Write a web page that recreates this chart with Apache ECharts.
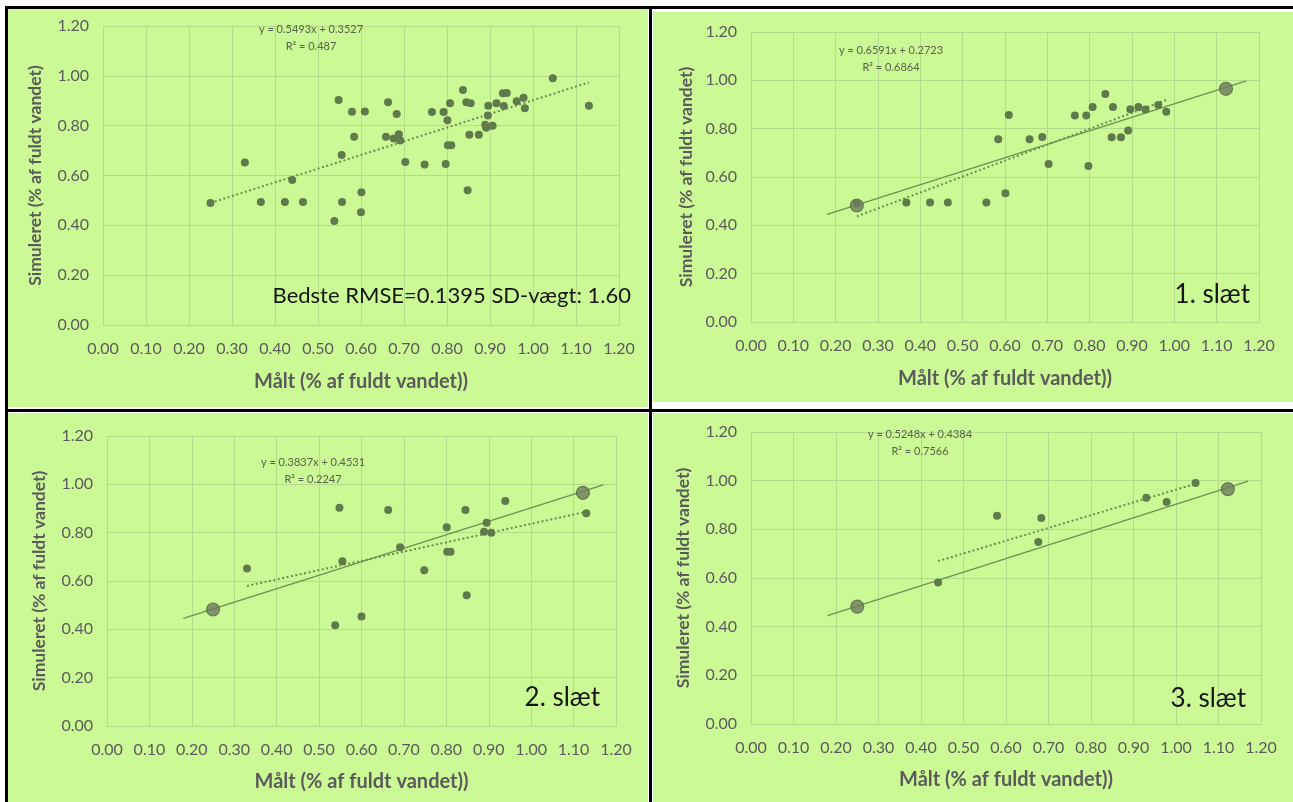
<!DOCTYPE html>
<html>
<head>
<meta charset="utf-8">
<script src="https://cdn.jsdelivr.net/npm/echarts@6/dist/echarts.min.js"></script>
<style>
html,body{margin:0;padding:0;background:#fff;}
#c{width:1293px;height:802px;}
</style>
</head>
<body>
<div id="c"></div>
<script>
// ---- data ----
var slaet1 = [[0.25,0.49],[0.367,0.494],[0.423,0.494],[0.465,0.494],[0.556,0.494],[0.601,0.533],[0.609,0.857],[0.584,0.756],[0.658,0.756],[0.688,0.766],[0.703,0.654],[0.765,0.855],[0.792,0.855],[0.797,0.646],[0.807,0.89],[0.837,0.943],[0.855,0.89],[0.852,0.764],[0.874,0.764],[0.891,0.792],[0.896,0.88],[0.915,0.89],[0.932,0.879],[0.962,0.898],[0.981,0.870]];
var slaet2 = [[0.330,0.652],[0.538,0.417],[0.548,0.903],[0.555,0.682],[0.600,0.453],[0.663,0.894],[0.691,0.740],[0.748,0.644],[0.801,0.822],[0.802,0.721],[0.810,0.721],[0.845,0.894],[0.848,0.541],[0.889,0.804],[0.895,0.841],[0.906,0.800],[0.939,0.931],[1.130,0.880]];
var slaet3 = [[0.440,0.582],[0.579,0.856],[0.676,0.748],[0.683,0.847],[0.930,0.930],[0.978,0.912],[1.046,0.990]];
var refPoints = [[0.25,0.482],[1.122,0.965]];
var refLine = [[0.18,0.445],[1.17,0.998]];
var trendSlopes = [0.5493, 0.6591, 0.3837, 0.5248];
var trendIntercepts = [0.3527, 0.2723, 0.4531, 0.4384];
var r2Values = ['0.487', '0.6864', '0.2247', '0.7566'];
var panelLabels = ['Bedste RMSE=0.1395 SD-vægt: 1.60', '1. slæt', '2. slæt', '3. slæt'];
var xTicks = ['0.00','0.10','0.20','0.30','0.40','0.50','0.60','0.70','0.80','0.90','1.00','1.10','1.20'];
var yTicks = ['0.00','0.20','0.40','0.60','0.80','1.00','1.20'];
var xTitle = 'Målt (% af fuldt vandet))';
var yTitle = 'Simuleret (% af fuldt vandet)';

// ---- layout ----
var panelData = [slaet1.concat(slaet2, slaet3), slaet1, slaet2, slaet3];
var grids = [
  {left:103, top:26, width:516, height:299},
  {left:751, top:32, width:508, height:290},
  {left:107, top:436, width:509, height:290},
  {left:751, top:432, width:510, height:292}
];
var eqPos = [[311,29],[891,50],[313,462],[920,434]];
var labelPos = [[631,296,22],[1250,295,26],[600,698,26],[1246,699,26]];
var bgRects = [[8,9,640,398],[653,12,640,390],[8,413,640,389],[653,413,640,389]];

var FONT = 'Lato, "Open Sans", sans-serif';
var GRID_C = '#b3dc8a';
var TXT_C = '#5b5b5b';
var MARK_C = '#607b4b';

var option = {
  backgroundColor:'#ffffff',
  animation:false,
  grid: grids.map(function(g){return {left:g.left, top:g.top, width:g.width, height:g.height, containLabel:false};}),
  xAxis: [], yAxis: [], series: [], graphic: []
};

function fmt(v){ return (Math.round(v*100)/100).toFixed(2); }

for (var i=0;i<4;i++){
  option.xAxis.push({
    type:'value', gridIndex:i, min:0, max:1.2, interval:0.1,
    name:xTitle, nameLocation:'middle', nameGap:i<2?47:46,
    nameTextStyle:{color:TXT_C, fontFamily:FONT, fontWeight:'bold', fontSize:20},
    axisLine:{show:true, lineStyle:{color:GRID_C, width:1}},
    axisTick:{show:false},
    splitLine:{show:true, lineStyle:{color:GRID_C, width:1}},
    axisLabel:{color:TXT_C, fontFamily:FONT, fontSize:16, margin:16, formatter:function(v){return fmt(v);}}
  });
  option.yAxis.push({
    type:'value', gridIndex:i, min:0, max:1.2, interval:0.2,
    name:yTitle, nameLocation:'middle', nameGap:i==1?56:59, nameRotate:90,
    nameTextStyle:{color:TXT_C, fontFamily:FONT, fontWeight:'bold', fontSize:17.5},
    axisLine:{show:false},
    axisTick:{show:false},
    splitLine:{show:true, lineStyle:{color:GRID_C, width:1}},
    axisLabel:{color:TXT_C, fontFamily:FONT, fontSize:16, margin:14, formatter:function(v){return fmt(v);}}
  });

  // reference line + big markers (slæt panels)
  if (i>0){
    option.series.push({
      type:'line', xAxisIndex:i, yAxisIndex:i, data:refLine, symbol:'none',
      lineStyle:{color:'#6c914f', width:1.3, type:'solid'}, z:2, silent:true
    });
  }
  // dotted trend line from displayed equation over the data range
  var xs = panelData[i].map(function(p){return p[0];});
  var x0 = Math.min.apply(null, xs), x1 = Math.max.apply(null, xs);
  option.series.push({
    type:'line', xAxisIndex:i, yAxisIndex:i,
    data:[[x0, trendSlopes[i]*x0+trendIntercepts[i]],[x1, trendSlopes[i]*x1+trendIntercepts[i]]],
    symbol:'none', lineStyle:{color:'#67924a', width:2, type:[2,2.5]}, z:3, silent:true
  });
  option.series.push({
    type:'scatter', xAxisIndex:i, yAxisIndex:i, data:panelData[i],
    symbolSize:8, itemStyle:{color:MARK_C, opacity:1}, z:4, silent:true
  });
  if (i>0){
    option.series.push({
      type:'scatter', xAxisIndex:i, yAxisIndex:i, data:refPoints,
      symbolSize:13, itemStyle:{color:'#6b7c5d', borderColor:'#54693f', borderWidth:1.2}, z:5, silent:true
    });
  }

  // panel background
  option.graphic.push({type:'rect', z:-100, silent:true,
    shape:{x:bgRects[i][0], y:bgRects[i][1], width:bgRects[i][2], height:bgRects[i][3]},
    style:{fill:'#cbf995'}});
  // equation texts
  option.graphic.push({type:'text', z:10, silent:true,
    style:{x:eqPos[i][0], y:eqPos[i][1], text:'y = '+trendSlopes[i].toFixed(4)+'x + '+trendIntercepts[i].toFixed(4),
      textAlign:'center', textVerticalAlign:'middle', fill:'#55644a', font:'11px '+FONT}});
  option.graphic.push({type:'text', z:10, silent:true,
    style:{x:eqPos[i][0], y:eqPos[i][1]+17, text:'R² = '+r2Values[i],
      textAlign:'center', textVerticalAlign:'middle', fill:'#55644a', font:'11px '+FONT}});
  // panel label
  option.graphic.push({type:'text', z:10, silent:true,
    style:{x:labelPos[i][0], y:labelPos[i][1], text:panelLabels[i],
      textAlign:'right', textVerticalAlign:'middle', fill:'#151515', font:labelPos[i][2]+'px '+FONT}});
}

// table borders
var borders = [
  [5,6,1288,3],   // top
  [5,6,3,796],    // left
  [649,6,3,796],  // middle vertical
  [5,409,1288,3]  // middle horizontal
];
borders.forEach(function(b){
  option.graphic.push({type:'rect', z:20, silent:true, shape:{x:b[0],y:b[1],width:b[2],height:b[3]}, style:{fill:'#000'}});
});

var chart = echarts.init(document.getElementById('c'), null, {renderer:'canvas'});
chart.setOption(option);
</script>
</body>
</html>
